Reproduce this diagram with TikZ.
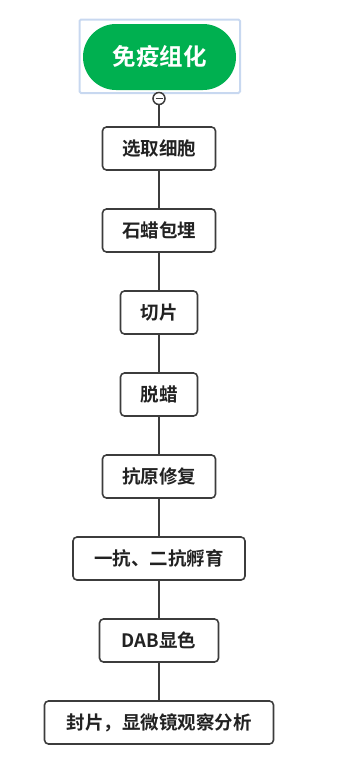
\documentclass[tikz,border=0pt]{standalone}
\usepackage{fontspec}
\newfontfamily\cjkb{Noto Sans CJK SC Bold}
\definecolor{boxline}{RGB}{60,60,60}
\definecolor{txt}{RGB}{34,34,34}
\definecolor{green1}{RGB}{0,176,80}
\definecolor{selblue}{RGB}{200,216,240}
\tikzset{
  stepbox/.style={draw=boxline, line width=1.6pt, rounded corners=4pt, fill=white,
    minimum height=43pt, inner sep=0pt, font=\cjkb\fontsize{18.5}{21}\selectfont, text=txt},
  conn/.style={draw=boxline, line width=2.4pt}
}
\begin{document}
\begin{tikzpicture}[x=1pt,y=-1pt]
\useasboundingbox (0,0) rectangle (355,758);
\draw[selblue, line width=2pt, rounded corners=1.5pt] (79.5,19.5) rectangle (240,93);
\node[fill=green1, rounded corners=33pt, minimum width=153pt, minimum height=66pt, inner sep=0pt,
  text=white, font=\cjkb\fontsize{23.5}{26}\selectfont] (title) at (159.5,57) {免疫组化};
\node[stepbox, minimum width=113pt] (b1) at (159,148.5) {选取细胞};
\node[stepbox, minimum width=113pt] (b2) at (159,230.5) {石蜡包埋};
\node[stepbox, minimum width=77pt] (b3) at (159,312.5) {切片};
\node[stepbox, minimum width=77pt] (b4) at (159,394.5) {脱蜡};
\node[stepbox, minimum width=113pt] (b5) at (159,476.5) {抗原修复};
\node[stepbox, minimum width=172pt] (b6) at (159,558.5) {一抗、二抗孵育};
\node[stepbox, minimum width=119pt] (b7) at (159,640.5) {DAB显色};
\node[stepbox, minimum width=229pt] (b8) at (159,722.5) {封片，显微镜观察分析};
\node[circle, draw=boxline, line width=1.5pt, fill=white, minimum size=12pt, inner sep=0pt] (col) at (159,98.5) {};
\draw[boxline, line width=1.5pt] ([xshift=-3.5pt]col.center) -- ([xshift=3.5pt]col.center);
\draw[conn] (col) -- (b1);
\draw[conn] (b1) -- (b2);
\draw[conn] (b2) -- (b3);
\draw[conn] (b3) -- (b4);
\draw[conn] (b4) -- (b5);
\draw[conn] (b5) -- (b6);
\draw[conn] (b6) -- (b7);
\draw[conn] (b7) -- (b8);
\end{tikzpicture}
\end{document}
